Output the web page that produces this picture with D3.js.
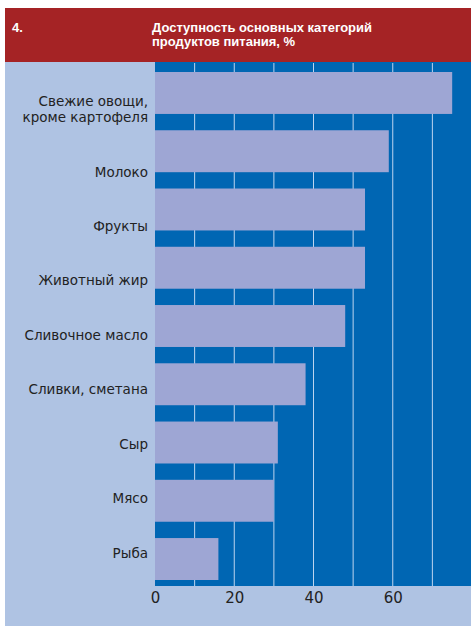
<!DOCTYPE html>
<html>
<head>
<meta charset="utf-8">
<script src="https://cdn.jsdelivr.net/npm/d3@7"></script>
<style>
  body { margin: 0; background: #fff; }
  svg text { font-family: "Liberation Sans", "Noto Sans", sans-serif; }
</style>
</head>
<body>
<div id="chart-area"></div>
<script>
var categories = [
  ["Свежие овощи,", "кроме картофеля"],
  ["Молоко"],
  ["Фрукты"],
  ["Животный жир"],
  ["Сливочное масло"],
  ["Сливки, сметана"],
  ["Сыр"],
  ["Мясо"],
  ["Рыба"]
];
var values = [75, 59, 53, 53, 48, 38, 31, 30, 16];
var gridTicks = [10, 20, 30, 40, 50, 60, 70];
var tickLabels = [0, 20, 40, 60];
var chartNumber = "4.";
var titleLines = ["Доступность основных категорий", "продуктов питания, %"];

var width = 471;
var height = 626;

var svg = d3.select("#chart-area")
  .append("svg")
  .attr("width", width)
  .attr("height", height);

// frame
svg.append("rect")
  .attr("x", 5).attr("y", 8)
  .attr("width", width - 5).attr("height", height - 8)
  .attr("fill", "#afc3e3");

svg.append("rect")
  .attr("x", 5).attr("y", 8)
  .attr("width", width - 5).attr("height", 54)
  .attr("fill", "#a52325");

svg.append("text")
  .attr("x", 12).attr("y", 31.5)
  .attr("fill", "#fff")
  .attr("font-size", 13)
  .attr("font-weight", "bold")
  .text(chartNumber);

svg.append("g")
  .selectAll("text")
  .data(titleLines)
  .enter()
  .append("text")
  .attr("x", 152)
  .attr("y", function(d, i){ return 31.5 + i * 14.6; })
  .attr("fill", "#fff")
  .attr("font-size", 13)
  .attr("font-weight", "bold")
  .text(function(d){ return d; });

var x = d3.scaleLinear()
  .domain([0, 80])
  .range([155, 472]);

var y = d3.scaleBand()
  .domain(d3.range(categories.length))
  .range([72, 580])
  .paddingInner(0.28)
  .paddingOuter(0);

// labels are spaced a little tighter than the bars in the original
var yLabel = d3.scalePoint()
  .domain(d3.range(categories.length))
  .range([116.6, 552]);

var plotTop = 62;
var plotBottom = 586;

svg.append("rect")
  .attr("x", x(0)).attr("y", plotTop)
  .attr("width", width - x(0)).attr("height", plotBottom - plotTop)
  .attr("fill", "#0066b3");

svg.append("g")
  .selectAll("line")
  .data(gridTicks)
  .enter()
  .append("line")
  .attr("x1", function(d){ return x(d); })
  .attr("x2", function(d){ return x(d); })
  .attr("y1", plotTop + 1)
  .attr("y2", plotBottom)
  .attr("stroke", "#bcd4ef")
  .attr("stroke-width", 1);

svg.append("g")
  .selectAll("rect")
  .data(values)
  .enter()
  .append("rect")
  .attr("x", x(0))
  .attr("y", function(d, i){ return y(i); })
  .attr("width", function(d){ return x(d) - x(0); })
  .attr("height", y.bandwidth())
  .attr("fill", "#9ea6d4");

var lineH = 15.8;

var labels = svg.append("g")
  .selectAll("text")
  .data(categories)
  .enter()
  .append("text")
  .attr("text-anchor", "end")
  .attr("fill", "#222")
  .attr("font-size", 13.5)
  .style("font-family", "'DejaVu Sans', sans-serif")
  .attr("y", function(d, i){
    return yLabel(i) + 5.5 - (d.length - 1) * lineH;
  });

labels.selectAll("tspan")
  .data(function(d){ return d; })
  .enter()
  .append("tspan")
  .attr("x", 148)
  .attr("dy", function(d, i){ return i === 0 ? 0 : lineH; })
  .text(function(d){ return d; });

var xAxisCall = d3.axisBottom(x)
  .tickValues(tickLabels)
  .tickSize(0)
  .tickPadding(6);

var xAxisGroup = svg.append("g")
  .attr("transform", "translate(0, " + plotBottom + ")")
  .call(xAxisCall);

xAxisGroup.select(".domain").remove();
xAxisGroup.selectAll("text")
  .attr("font-size", 15)
  .attr("fill", "#222")
  .style("font-family", "'DejaVu Sans', sans-serif");
</script>
</body>
</html>
